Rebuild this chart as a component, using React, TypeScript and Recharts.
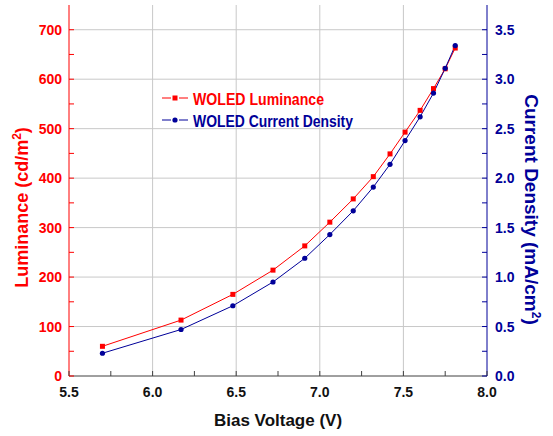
import React from "react";
import { Legend, Line, LineChart, ReferenceLine, XAxis, YAxis } from "recharts";

// values
const voltage = [5.7, 6.17, 6.48, 6.72, 6.91, 7.06, 7.2, 7.32, 7.42, 7.51, 7.6, 7.68, 7.75, 7.81];
const luminance = [60, 113, 165, 214, 263, 311, 358, 403, 449, 493, 537, 581, 621, 663];
const currentDensity = [0.23, 0.47, 0.71, 0.95, 1.19, 1.43, 1.67, 1.91, 2.14, 2.38, 2.62, 2.86, 3.11, 3.34];

const xTicks = [5.5, 5.75, 6, 6.25, 6.5, 6.75, 7, 7.25, 7.5, 7.75, 8];
const lumTicks = [0, 50, 100, 150, 200, 250, 300, 350, 400, 450, 500, 550, 600, 650, 700];
const cdTicks = [0, 0.25, 0.5, 0.75, 1, 1.25, 1.5, 1.75, 2, 2.25, 2.5, 2.75, 3, 3.25, 3.5];
const gridX = [6, 6.5, 7, 7.5];
const gridY = [100, 200, 300, 400, 500, 600, 700];

const rows = voltage.map((v, i) => ({ v, lum: luminance[i], cd: currentDensity[i] }));

const RED = "#ff0000";
const NAVY = "#000099";
const GRID = "#c8c8c8";
const FONT = "'Liberation Sans', Arial, sans-serif";

const isStep = (v: number, step: number) => Math.abs(v / step - Math.round(v / step)) < 1e-6;

function XTick({ x, y, payload }: any) {
  const v = payload.value;
  return (
    <g>
      <line x1={x} x2={x} y1={y} y2={y - 5} stroke="#404040" />
      {isStep(v, 0.5) && (
        <text x={x} y={y + 21} textAnchor="middle" fontFamily={FONT} fontWeight="bold" fontSize={14} fill="#111">
          {v.toFixed(1)}
        </text>
      )}
    </g>
  );
}

function LumTick({ x, y, payload }: any) {
  const v = payload.value;
  return (
    <g>
      <line x1={x} x2={x + 5} y1={y} y2={y} stroke={RED} />
      {isStep(v, 100) && (
        <text x={x - 7} y={y + 5} textAnchor="end" fontFamily={FONT} fontWeight="bold" fontSize={14} fill={RED}>
          {v}
        </text>
      )}
    </g>
  );
}

function CdTick({ x, y, payload }: any) {
  const v = payload.value;
  return (
    <g>
      <line x1={x} x2={x - 5} y1={y} y2={y} stroke={NAVY} />
      {isStep(v, 0.5) && (
        <text x={x + 8} y={y + 5} textAnchor="start" fontFamily={FONT} fontWeight="bold" fontSize={14} fill={NAVY}>
          {v.toFixed(1)}
        </text>
      )}
    </g>
  );
}

const lumTitle = ({ viewBox }: any) => {
  const cx = viewBox.x + 19;
  const cy = viewBox.y + viewBox.height / 2 + 17;
  return (
    <text x={cx} y={cy} transform={`rotate(-90 ${cx} ${cy})`} textAnchor="middle" fontFamily={FONT} fontWeight="bold" fontSize={18} fill={RED}>
      Luminance (cd/m<tspan dy={-7} fontSize={12}>2</tspan><tspan dy={7}>)</tspan>
    </text>
  );
};

const cdTitle = ({ viewBox }: any) => {
  const cx = viewBox.x + 38;
  const cy = viewBox.y + viewBox.height / 2 + 19;
  return (
    <text x={cx} y={cy} transform={`rotate(90 ${cx} ${cy})`} textAnchor="middle" fontFamily={FONT} fontWeight="bold" fontSize={19} fill={NAVY}>
      Current Density (mA/cm<tspan dy={-7} fontSize={12}>2</tspan><tspan dy={7}>)</tspan>
    </text>
  );
};

const vTitle = ({ viewBox }: any) => (
  <text x={viewBox.x + viewBox.width / 2} y={viewBox.y + 50} textAnchor="middle" fontFamily={FONT} fontWeight="bold" fontSize={17} fill="#111">
    Bias Voltage (V)
  </text>
);

const Square = ({ cx, cy }: any) => <rect x={cx - 2.5} y={cy - 2.5} width={5} height={5} fill={RED} />;
const Dot = ({ cx, cy }: any) => <circle cx={cx} cy={cy} r={2.6} fill={NAVY} />;

const renderLegend = () => (
  <svg width={260} height={48}>
    <line x1={12} x2={21} y1={13} y2={13} stroke={RED} />
    <line x1={29} x2={38} y1={13} y2={13} stroke={RED} />
    <rect x={22.5} y={10.5} width={5} height={5} fill={RED} />
    <text x={43} y={19.5} fontFamily={FONT} fontWeight="bold" fontSize={17} fill={RED} textLength={131} lengthAdjust="spacingAndGlyphs">
      WOLED Luminance
    </text>
    <line x1={12} x2={21} y1={35} y2={35} stroke={NAVY} />
    <line x1={29} x2={38} y1={35} y2={35} stroke={NAVY} />
    <circle cx={25} cy={35} r={2.6} fill={NAVY} />
    <text x={43} y={41.5} fontFamily={FONT} fontWeight="bold" fontSize={17} fill={NAVY} textLength={160} lengthAdjust="spacingAndGlyphs">
      WOLED Current Density
    </text>
  </svg>
);

export default function App() {
  return (
    <div style={{ position: "absolute", left: 0, top: 0, width: 553, height: 436, background: "#fff" }}>
      <LineChart width={553} height={436} data={rows} margin={{ top: 5, right: 6, left: 9, bottom: 0 }}>
        <XAxis
          dataKey="v"
          type="number"
          domain={[5.5, 8]}
          ticks={xTicks}
          interval={0}
          height={60}
          tickSize={0}
          tickMargin={0}
          tickLine={false}
          axisLine={{ stroke: "#404040" }}
          tick={<XTick />}
          label={vTitle}
        />
        <YAxis
          yAxisId="lum"
          type="number"
          domain={[0, 750]}
          ticks={lumTicks}
          interval={0}
          width={60}
          tickSize={0}
          tickMargin={0}
          tickLine={false}
          axisLine={{ stroke: RED }}
          tick={<LumTick />}
          label={lumTitle}
        />
        <YAxis
          yAxisId="cd"
          orientation="right"
          type="number"
          domain={[0, 3.75]}
          ticks={cdTicks}
          interval={0}
          width={60}
          tickSize={0}
          tickMargin={0}
          tickLine={false}
          axisLine={{ stroke: NAVY }}
          tick={<CdTick />}
          label={cdTitle}
        />
        {gridX.map((g) => (
          <ReferenceLine key={`gx${g}`} yAxisId="lum" x={g} stroke={GRID} />
        ))}
        {gridY.map((g) => (
          <ReferenceLine key={`gy${g}`} yAxisId="lum" y={g} stroke={GRID} />
        ))}
        <Legend layout="vertical" align="center" verticalAlign="middle" content={renderLegend} wrapperStyle={{ left: 150, top: 85, width: 260, height: 48 }} />
        <Line yAxisId="lum" dataKey="lum" name="WOLED Luminance" stroke={RED} strokeWidth={1} dot={<Square />} isAnimationActive={false} />
        <Line yAxisId="cd" dataKey="cd" name="WOLED Current Density" stroke={NAVY} strokeWidth={1} dot={<Dot />} isAnimationActive={false} />
      </LineChart>
    </div>
  );
}
